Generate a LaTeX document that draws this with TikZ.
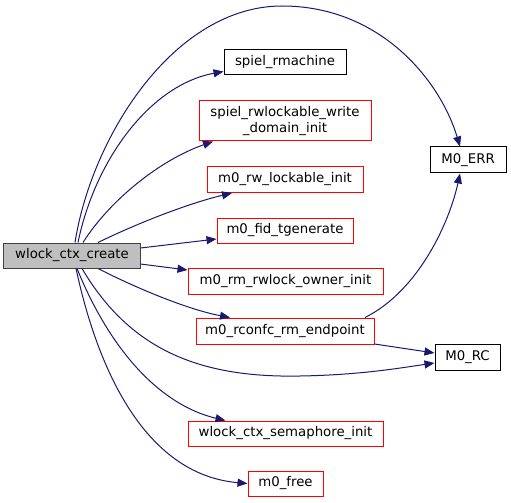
\documentclass[tikz,border=0pt]{standalone}
\usepackage{fontspec}
\setmainfont{DejaVu Sans}
\usetikzlibrary{arrows.meta}
\definecolor{edgeblue}{HTML}{191970}
\definecolor{rootgray}{HTML}{BFBFBF}
\tikzset{
  box/.style={draw=black, line width=1bp, rectangle, inner sep=0pt, minimum height=25bp,
    align=center, font=\fontsize{13.3bp}{15.5bp}\selectfont},
  redbox/.style={box, draw=red},
  rootbox/.style={box, draw=black!75, fill=rootgray},
  edge/.style={draw=edgeblue, line width=1bp, -{Triangle[length=10bp,width=8bp]}}
}
\begin{document}
\begin{tikzpicture}[x=1bp,y=-1bp]
\useasboundingbox (0,0) rectangle (511,503);
\node[rootbox, minimum width=136bp] (A) at (72,255.5) {wlock\_ctx\_create};
\node[box, minimum width=122bp] (B) at (285,62.5) {spiel\_rmachine};
\node[redbox, minimum width=172bp, minimum height=40bp] (C) at (285,121) {spiel\_rwlockable\_write\\\_domain\_init};
\node[redbox, minimum width=156bp, minimum height=26bp] (D) at (285,179.5) {m0\_rw\_lockable\_init};
\node[redbox, minimum width=136bp] (E) at (285,230.5) {m0\_fid\_tgenerate};
\node[redbox, minimum width=195bp, minimum height=26bp] (F) at (285.5,281) {m0\_rm\_rwlock\_owner\_init};
\node[redbox, minimum width=178bp, minimum height=26bp] (G) at (285,331) {m0\_rconfc\_rm\_endpoint};
\node[redbox, minimum width=195bp] (H) at (285.5,433.5) {wlock\_ctx\_semaphore\_init};
\node[redbox, minimum width=75bp] (I) at (285.5,483.5) {m0\_free};
\node[box, minimum width=76bp, minimum height=26bp] (J) at (468,160) {M0\_ERR};
\node[box, minimum width=65bp, minimum height=26bp] (K) at (467.5,357) {M0\_RC};

% A -> M0_ERR (big arc)
\draw[edge] ([xshift=3bp]A.north) .. controls (92,135) and (175,6) .. (282,6)
  .. controls (380,6) and (440,80) .. ([xshift=-8bp]J.north);
% A -> B
\draw[edge] ([xshift=6bp]A.north) .. controls (95,160) and (150,85) .. ([yshift=-9bp]B.west);
% A -> C
\draw[edge] ([xshift=11bp]A.north) .. controls (110,200) and (160,160) .. ([xshift=-72bp]C.south);
% A -> D
\draw[edge] ([xshift=26bp]A.north) .. controls (140,222) and (190,203) .. ([xshift=-53bp]D.south);
% A -> E
\draw[edge] ([yshift=7.5bp]A.east) -- ([yshift=-8.5bp]E.west);
% A -> F
\draw[edge] ([yshift=-8.5bp]A.east) -- ([yshift=11bp]F.west);
% A -> G
\draw[edge] ([xshift=26bp]A.south) .. controls (140,290) and (190,310) .. ([xshift=-55bp]G.north);
% A -> K
\draw[edge] ([xshift=10bp]A.south) .. controls (130,350) and (200,378) .. (300,376)
  .. controls (360,375) and (400,368) .. ([yshift=-6bp]K.west);
% A -> H
\draw[edge] ([xshift=5bp]A.south) .. controls (110,350) and (160,405) .. ([xshift=-60bp]H.north);
% A -> I
\draw[edge] ([xshift=4bp]A.south) .. controls (100,380) and (150,475) .. (I.west);
% G -> J
\draw[edge] ([xshift=80bp]G.north) .. controls (420,290) and (450,220) .. ([xshift=-8bp]J.south);
% G -> K
\draw[edge] ([yshift=-13bp]G.east) -- ([yshift=4bp]K.west);
\end{tikzpicture}
\end{document}
